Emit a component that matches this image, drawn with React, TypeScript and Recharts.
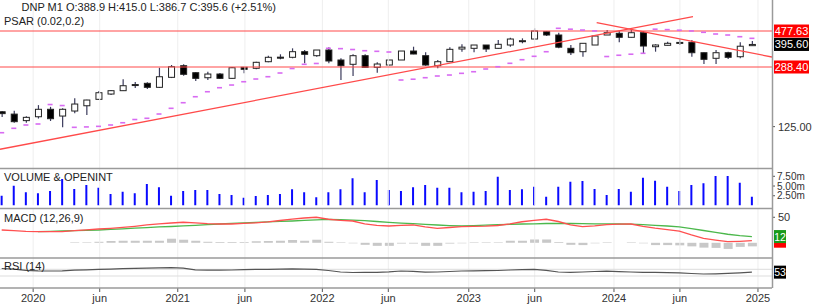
import React from 'react';
import { ComposedChart, Bar, Line, XAxis, YAxis, ReferenceLine } from 'recharts';

// monthly bars, Oct 2019 .. Dec 2024
const opens = [154, 149, 136, 143.6, 159.4, 145, 155.6, 167.5, 183.3, 197.4, 206.9, 224, 229.4, 216.9, 249.5, 293.6, 266.2, 248.1, 261.3, 246, 287.1, 283.2, 310.6, 331, 330.4, 357.4, 337.9, 365.9, 318.1, 299.5, 337.9, 287.1, 296.5, 318.1, 360.8, 337.9, 293.6, 310.6, 371.1, 374.7, 392.5, 374.7, 392.5, 414, 426.9, 473, 451.6, 374.7, 357.4, 392.5, 451.6, 462.5, 437.3, 466.3, 383.3, 390.9, 405, 407.6, 352.3, 325.8, 352.3, 333.1, 388.9];
const highs = [155.5, 156, 144.5, 169, 165, 161.6, 185.9, 182, 206, 208.9, 242.7, 233.6, 232.5, 285.4, 296.5, 299.5, 268, 270, 265.1, 288, 288, 310.6, 337.9, 344.6, 374.7, 365.9, 366, 379.9, 325.8, 344.6, 344.6, 308, 318.5, 361, 383.3, 354.3, 318.1, 379.9, 396.4, 393, 393, 421, 434.8, 431, 496, 477.6, 466.3, 392.5, 403, 446, 484.4, 479.6, 496, 477.6, 396.4, 411, 425.2, 421, 353, 365.9, 357.4, 407.6, 415];
const lows = [143, 132, 132, 140, 135.3, 123.8, 150.7, 147.1, 181.5, 194.7, 206, 214.8, 211.9, 215, 247, 255.2, 237, 240.3, 243.7, 245, 264, 279, 308, 321.2, 325.8, 303.7, 333.1, 303.7, 240.3, 254.1, 286, 266.2, 296, 318, 345, 293.6, 283.2, 309, 357.4, 354.3, 356, 373, 383.3, 402, 425, 445.3, 374.7, 341.2, 333.1, 392, 451, 407.6, 436, 349.4, 357.4, 390, 392.5, 333.1, 300.7, 300.7, 322.6, 325.8, 386.7];
const closes = [150, 134, 142.4, 159.4, 139.7, 159.4, 171.6, 181.5, 201.1, 206.9, 221.8, 225.5, 216.9, 251.6, 289.5, 260.3, 246, 261.3, 246, 285.4, 279.2, 308, 330.4, 329, 357.4, 344.6, 365.9, 313.7, 293.6, 337.9, 287.1, 300.7, 318.1, 360.8, 346, 296.5, 310.6, 369.5, 380.8, 392.5, 371.1, 396.4, 426.9, 417, 477.6, 451.6, 380.8, 352.3, 402, 445.3, 466.3, 437.3, 466.3, 387, 392.5, 402, 407, 352.3, 321.2, 352.3, 330.4, 385.9, 395.6];
const psar = [114.8, 122.1, 127.9, 129.7, 170.4, 168, 123.8, 124.5, 125.5, 127.9, 132, 138.1, 140.5, 149.2, 161.6, 174.8, 190.1, 203.9, 215.7, 224, 234.6, 243.7, 251.7, 265.1, 282.3, 299.5, 303, 374.8, 373, 368.5, 362.4, 359.3, 355.8, 240.3, 243, 248.2, 254.2, 257.7, 263.9, 269.9, 280.4, 289.5, 303.7, 319.4, 335, 357.3, 496, 490, 484, 478, 334, 340, 345, 349.4, 490, 487, 483, 478, 469, 458, 451.6, 441, 431];
const volumeM = [2.52, 5.08, 3.39, 3.13, 3.75, 6.83, 4.26, 5.29, 4.57, 2.93, 3.54, 3.13, 5.49, 4.67, 2.52, 3.75, 3.95, 3.95, 2.93, 2.72, 2.0, 2.41, 2.72, 2.93, 4.16, 3.39, 2.1, 3.39, 4.16, 6.98, 3.39, 6.52, 3.95, 3.75, 4.67, 5.29, 4.57, 4.57, 3.39, 3.54, 3.75, 7.39, 3.95, 4.16, 4.83, 2.26, 4.83, 6.11, 6.32, 4.26, 2.72, 4.26, 3.54, 7.14, 6.37, 4.83, 3.75, 5.29, 5.7, 7.55, 7.55, 5.85, 2.26];
const macdLine = [25.1, 23.7, 22.3, 21.8, 21.8, 21.8, 23.7, 25.5, 27.0, 28.4, 30.2, 32.3, 34.9, 37.2, 38.8, 40.2, 39.0, 37.6, 36.8, 36.8, 38.0, 39.2, 40.8, 43.7, 46.3, 48.6, 50.0, 46.1, 43.9, 42.7, 37.2, 34.3, 32.9, 34.3, 34.9, 31.0, 28.4, 30.0, 31.6, 32.1, 32.5, 33.9, 37.2, 41.2, 44.1, 46.1, 41.7, 35.3, 31.8, 33.3, 35.7, 36.5, 36.8, 32.1, 28.6, 25.9, 22.7, 15.3, 8.8, 5.3, 2.2, 2.9, 4.1];
const signalLine = [null, null, null, 21.8, 22.3, 23.1, 23.7, 24.5, 25.1, 26.3, 27.4, 28.6, 29.8, 31.0, 31.9, 33.1, 34.3, 35.5, 36.8, 38.0, 39.0, 40.0, 41.0, 41.9, 42.7, 43.9, 44.7, 45.7, 45.3, 44.5, 43.5, 41.7, 39.8, 38.4, 37.4, 36.1, 34.9, 33.7, 32.9, 33.7, 34.5, 35.3, 36.1, 36.8, 37.2, 37.8, 38.2, 37.8, 37.4, 37.2, 37.0, 36.8, 36.5, 35.7, 34.3, 32.9, 31.2, 27.8, 24.1, 20.2, 16.7, 14.0, 12.2];
const macdHist = [null, null, null, null, null, null, 1, 1, 2, 3.5, 4, 4, 4, 4, 8, 6, 4, 2, 1.5, 1.5, 1.5, 3, 3.5, 4, 5.5, 4, 6, 2, 1, -1, -4, -6, -6, -1.5, -1.5, -6, -6, -1.5, -1, 1, 1, 1, 4, 4, 6.5, 6.5, 1.5, -4, -4.5, -1, 1, 0, 1, -1, -4.5, -4.5, -5, -7, -9.5, -10, -12, -8, -7];
const rsi14 = [74.8, 70.6, 64.0, 61.0, 59.9, 61.0, 64.6, 67.0, 69.4, 71.2, 73.6, 76.0, 77.2, 79.0, 80.2, 76.6, 67.0, 64.6, 65.2, 65.8, 67.6, 69.4, 70.0, 71.2, 72.4, 71.2, 70.0, 62.8, 53.9, 50.9, 51.5, 52.1, 55.1, 59.9, 58.1, 53.3, 53.9, 56.9, 59.9, 61.0, 61.6, 62.8, 65.8, 68.2, 70.0, 64.0, 53.9, 52.1, 53.9, 56.9, 59.3, 56.3, 53.9, 52.1, 51.5, 50.3, 49.1, 44.9, 41.9, 43.1, 45.5, 49.1, 53.0];

// x ticks, in bar-index units
const xTickAt = [2.6, 8.1, 14.55, 20.1, 26.5, 31.95, 38.6, 44.05, 50.6, 56.05, 62.5];
const xTickLabels = ['2020', 'jun', '2021', 'jun', '2022', 'jun', '2023', 'jun', '2024', 'jun', '2025'];

const levels = [477.63, 288.4];
const priceTicks = [477.63, 395.6, 288.4, 125];
const volumeTicks = [2.5, 5, 7.5];
const macdScaleTick = 50;
const risingTrend = [{ x: -0.14, y: 91 }, { x: 57.13, y: 583.7 }];
const fallingTrend = [{ x: 49.17, y: 536.6 }, { x: 63.66, y: 331.7 }];

const FONT = '"Liberation Sans", Arial, sans-serif';
const PLOT_RIGHT = 772;
const AXIS_W = 58;
const X_DOMAIN: [number, number] = [-0.14, 63.66];
const RED = '#ff4a4a';

const data = opens.map((o, i) => ({
  i,
  o,
  h: highs[i],
  l: lows[i],
  c: closes[i],
  psar: psar[i],
  vol: volumeM[i],
  macd: macdLine[i],
  signal: signalLine[i],
  hist: macdHist[i],
  rsi: rsi14[i],
}));

const lastClose = closes[closes.length - 1];
const macdLast = macdLine[macdLine.length - 1];
const signalLast = signalLine[signalLine.length - 1] as number;
const rsiLast = rsi14[rsi14.length - 1];

const Candle = (props: any) => {
  const { x, y, width, height, payload } = props;
  const { o, h, l, c } = payload;
  const lh = Math.log(h);
  const ll = Math.log(l);
  const py = (v: number) => (lh === ll ? y : y + (height * (lh - Math.log(v))) / (lh - ll));
  const cx = x + width / 2;
  const top = py(Math.max(o, c));
  const bot = py(Math.min(o, c));
  return (
    <g>
      <line x1={cx} x2={cx} y1={y} y2={y + height} stroke="#3b3b5c" strokeWidth={1.2} />
      <rect x={x + 0.5} y={top} width={width - 1} height={Math.max(bot - top, 1)}
        fill={c >= o ? '#fff' : '#000'} stroke="#222" strokeWidth={1} />
    </g>
  );
};

const SarDash = (props: any) => {
  const { cx, cy, index } = props;
  if (cy == null || isNaN(cy)) return <g key={index} />;
  return <rect key={index} x={cx - 2.5} y={cy - 0.8} width={5} height={1.6} fill="#d86bf2" />;
};

const boxLabel = (y: number, text: string, bg: string, w = 35, fs = 11) => (
  <g>
    <rect x={PLOT_RIGHT + 2} y={y - 6.5} width={w} height={13} fill={bg} />
    <text x={PLOT_RIGHT + 2 + w / 2} y={y + 4} textAnchor="middle" fill="#fff" fontSize={fs} fontFamily={FONT}>{text}</text>
  </g>
);

const plainLabel = (y: number, text: string) => (
  <g>
    <line x1={PLOT_RIGHT} x2={PLOT_RIGHT + 3} y1={y} y2={y} stroke="#555" />
    <text x={PLOT_RIGHT + 6} y={y + 4} fill="#333" fontSize={11} fontFamily={FONT}>{text}</text>
  </g>
);

const PriceTick = (props: any) => {
  const { y, payload } = props;
  const v = payload.value;
  if (levels.includes(v)) return boxLabel(y, v.toFixed(2), '#ff0000');
  if (v === lastClose) return boxLabel(y, v.toFixed(2), '#000');
  return plainLabel(y, v.toFixed(2));
};

const MacdTick = (props: any) => {
  const { y, payload } = props;
  const v = payload.value;
  if (v === signalLast) return boxLabel(y, String(Math.round(v)), '#1a9a1a', 12, 10.5);
  return <rect x={PLOT_RIGHT + 2} y={y - 6} width={12} height={13} fill="#ff0000" />;
};

const MacdScaleLabel = (props: any) => plainLabel(props.viewBox.y, String(macdScaleTick));

const RsiTick = (props: any) => boxLabel(props.y, String(Math.round(props.payload.value)), '#000', 12, 10.5);

const gridLines = () =>
  xTickAt.map((t) => <ReferenceLine key={'g' + t} x={t} stroke="#eeeeee" strokeWidth={1} ifOverflow="hidden" />);

const hiddenX = <XAxis type="number" dataKey="i" domain={X_DOMAIN} allowDataOverflow hide />;

const Panel = ({ top, height, children }: { top: number; height: number; children: React.ReactNode }) => (
  <div style={{ position: 'absolute', left: 0, top, width: 830, height }}>{children}</div>
);

export default function App() {
  return (
    <div style={{ position: 'absolute', left: 0, top: 0, width: 830, height: 308, background: '#fff', overflow: 'hidden', fontFamily: FONT }}>
      <Panel top={0} height={168}>
        <ComposedChart width={830} height={168} data={data} margin={{ top: 0, right: 0, bottom: 0, left: 0 }}>
          {hiddenX}
          <YAxis orientation="right" width={AXIS_W} scale="log" domain={[70, 737.7]} allowDataOverflow
            ticks={priceTicks} interval={0} tick={PriceTick} tickLine={false} axisLine={false} />
          {gridLines()}
          {levels.map((v) => (
            <ReferenceLine key={v} y={v} stroke={RED} strokeWidth={1.2} />
          ))}
          <ReferenceLine segment={risingTrend} stroke={RED} strokeWidth={1.3} ifOverflow="hidden" />
          <ReferenceLine segment={fallingTrend} stroke={RED} strokeWidth={1.3} ifOverflow="hidden" />
          <Line dataKey="psar" stroke="none" dot={SarDash} activeDot={false} isAnimationActive={false} />
          <Bar dataKey={(d: any) => [d.l, d.h]} barSize={7} shape={Candle} isAnimationActive={false} />
        </ComposedChart>
      </Panel>

      <Panel top={168} height={41}>
        <ComposedChart width={830} height={41} data={data} margin={{ top: 0.5, right: 0, bottom: 3.5, left: 0 }}>
          {hiddenX}
          <YAxis orientation="right" width={AXIS_W} domain={[0, 9.5]} allowDataOverflow ticks={volumeTicks} interval={0}
            tickFormatter={(v: number) => `${v.toFixed(2)}m`} tick={{ fontSize: 10, fill: '#333', fontFamily: FONT }}
            tickSize={3} tickLine={{ stroke: '#555' }} axisLine={false} />
          {gridLines()}
          <Bar dataKey="vol" fill="#0a0aff" barSize={2} isAnimationActive={false} />
        </ComposedChart>
      </Panel>

      <Panel top={209} height={49}>
        <ComposedChart width={830} height={49} data={data} margin={{ top: 0, right: 0, bottom: 0, left: 0 }}>
          {hiddenX}
          <YAxis orientation="right" width={AXIS_W} domain={[-29.8, 66.2]} allowDataOverflow
            ticks={[macdLast, signalLast]} interval={0} tick={MacdTick} tickLine={false} axisLine={false} />
          {gridLines()}
          <ReferenceLine y={macdScaleTick} stroke="none" label={MacdScaleLabel} />
          <Bar dataKey="hist" fill="#c8c8c8" barSize={9} isAnimationActive={false} />
          <Line dataKey="signal" stroke="#4cb84c" strokeWidth={1.3} dot={false} activeDot={false} isAnimationActive={false} />
          <Line dataKey="macd" stroke="#ff5050" strokeWidth={1.3} dot={false} activeDot={false} isAnimationActive={false} />
        </ComposedChart>
      </Panel>

      <Panel top={258} height={50}>
        <ComposedChart width={830} height={50} data={data} margin={{ top: 0, right: 0, bottom: 0, left: 0 }}>
          <XAxis type="number" dataKey="i" domain={X_DOMAIN} allowDataOverflow ticks={xTickAt} interval={0}
            tickFormatter={(v: number) => xTickLabels[xTickAt.indexOf(v)] ?? ''}
            tick={{ fontSize: 11, fill: '#333', fontFamily: FONT }} tickSize={4} tickLine={{ stroke: '#555' }}
            axisLine={false} height={20} />
          <YAxis orientation="right" width={AXIS_W} domain={[-41.6, 137.5]} allowDataOverflow
            ticks={[rsiLast]} interval={0} tick={RsiTick} tickLine={false} axisLine={false} />
          {gridLines()}
          <ReferenceLine y={70} stroke="#dddddd" />
          <ReferenceLine y={30} stroke="#dddddd" />
          <Line dataKey="rsi" stroke="#555" strokeWidth={1.2} dot={false} activeDot={false} isAnimationActive={false} />
        </ComposedChart>
      </Panel>

      <svg width={830} height={308} style={{ position: 'absolute', left: 0, top: 0, pointerEvents: 'none' }}>
        <g stroke="#9a9a9a" strokeWidth={1.5}>
          <line x1={0} x2={PLOT_RIGHT} y1={168.5} y2={168.5} />
          <line x1={0} x2={PLOT_RIGHT} y1={208.5} y2={208.5} />
          <line x1={0} x2={PLOT_RIGHT} y1={258} y2={258} />
          <line x1={0} x2={PLOT_RIGHT} y1={288} y2={288} />
          <line x1={PLOT_RIGHT + 0.5} x2={PLOT_RIGHT + 0.5} y1={0} y2={288} />
        </g>
        <g fontFamily={FONT} fontSize={11} fill="#222">
          <text x={21.5} y={11}>DNP M1 O:388.9 H:415.0 L:386.7 C:395.6 (+2.51%)</text>
          <text x={4} y={25}>PSAR (0.02,0.2)</text>
          <text x={4} y={180.5}>VOLUME &amp; OPENINT</text>
          <text x={4} y={221.5}>MACD (12,26,9)</text>
          <text x={4} y={270}>RSI (14)</text>
        </g>
      </svg>
    </div>
  );
}
